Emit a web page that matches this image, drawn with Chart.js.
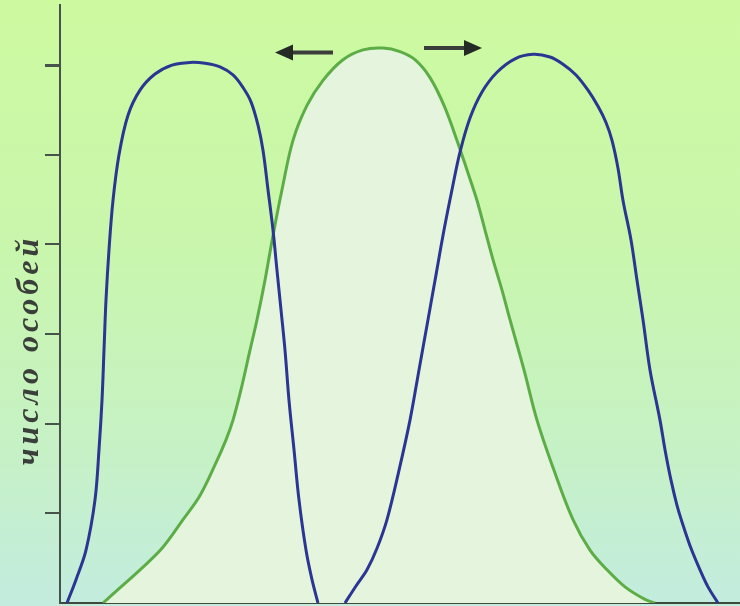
<!DOCTYPE html>
<html>
<head>
<meta charset="utf-8">
<script src="https://cdn.jsdelivr.net/npm/chart.js@4.4.1/dist/chart.umd.min.js"></script>
<style>
  html, body { margin: 0; padding: 0; }
  #wrap {
    width: 740px; height: 606px;
    background: linear-gradient(to bottom, #cdfaa0 0%, #c9f6ac 40%, #c6f1c6 75%, #c3ecdf 100%);
  }
</style>
</head>
<body>
<div id="wrap"><canvas id="grafico" width="740" height="606"></canvas></div>
<script>
// исходная популяция (зелёная) и две новые (синие), x - признак, y - число особей
const xGreen = [4.3, 6.1, 8.0, 10.2, 12.3, 14.0, 15.5, 16.6, 17.3, 18.1, 19.0, 19.7, 20.5, 21.3, 22.2, 23.3, 24.7, 26.3, 28.3, 30.3, 32.3, 34.0, 35.5, 37.0, 38.4, 39.7, 40.7, 41.7, 42.5, 43.3, 44.2, 45.0, 46.4, 47.7, 49.4, 51.3, 53.0, 54.7, 56.5, 58.5, 59.5];
const yGreen = [0, 0.18, 0.37, 0.61, 0.93, 1.20, 1.54, 1.82, 2.04, 2.38, 2.82, 3.16, 3.60, 4.10, 4.61, 5.16, 5.55, 5.83, 6.06, 6.17, 6.19, 6.15, 6.06, 5.86, 5.55, 5.16, 4.83, 4.49, 4.16, 3.83, 3.49, 3.16, 2.60, 2.04, 1.48, 0.93, 0.59, 0.37, 0.18, 0.04, 0];

const xBlueLeft = [0.7, 1.6, 2.6, 3.5, 3.9, 4.2, 4.4, 4.6, 4.9, 5.3, 5.9, 6.8, 8.0, 9.5, 11.2, 13.0, 14.5, 16.0, 17.3, 18.3, 19.1, 19.8, 20.3, 20.8, 21.3, 21.7, 22.1, 22.5, 22.9, 23.4, 23.9, 24.6, 25.2, 25.8];
const yBlueLeft = [0, 0.26, 0.59, 1.15, 1.71, 2.26, 2.82, 3.38, 3.94, 4.49, 5.00, 5.44, 5.72, 5.90, 6.00, 6.03, 6.02, 5.98, 5.89, 5.75, 5.59, 5.33, 5.05, 4.61, 4.16, 3.71, 3.27, 2.82, 2.26, 1.71, 1.15, 0.59, 0.26, 0];

const xBlueRight = [28.5, 29.6, 30.7, 31.7, 32.7, 33.9, 35.0, 35.9, 36.8, 37.6, 38.4, 39.2, 40.0, 41.0, 42.2, 43.7, 45.5, 47.3, 49.0, 50.3, 51.6, 52.8, 53.8, 54.6, 55.2, 55.8, 56.3, 57.1, 57.7, 58.3, 59.0, 60.0, 60.5, 61.1, 61.7, 62.3, 63.1, 64.0, 64.8, 65.8];
const yBlueRight = [0, 0.19, 0.37, 0.61, 0.93, 1.48, 2.04, 2.60, 3.16, 3.66, 4.16, 4.61, 5.03, 5.41, 5.70, 5.92, 6.07, 6.12, 6.09, 6.01, 5.89, 5.72, 5.54, 5.36, 5.16, 4.85, 4.49, 4.05, 3.60, 3.16, 2.60, 2.04, 1.71, 1.37, 1.09, 0.87, 0.61, 0.37, 0.18, 0];

const yTicks = [1, 2, 3, 4, 5, 6];
const axisLabel = 'число особей';

// стрелки над вершиной: [от x, до x, y]
const arrows = [[27.3, 21.5, 6.14], [36.4, 42.2, 6.19]];

function pts(xs, ys) {
  return xs.map((x, i) => ({ x: x, y: ys[i] }));
}

const extras = {
  id: 'extras',
  afterDraw(chart) {
    const ctx = chart.ctx;
    const sx = chart.scales.x, sy = chart.scales.y;
    ctx.save();
    ctx.fillStyle = '#262a26';
    ctx.strokeStyle = '#3a3d3a';
    ctx.lineWidth = 4;
    arrows.forEach(a => {
      const x0 = sx.getPixelForValue(a[0]);
      const x1 = sx.getPixelForValue(a[1]);
      const y = sy.getPixelForValue(a[2]);
      const dir = Math.sign(x1 - x0);
      ctx.beginPath();
      ctx.moveTo(x0, y);
      ctx.lineTo(x1 - dir * 14, y);
      ctx.stroke();
      ctx.beginPath();
      ctx.moveTo(x1, y);
      ctx.lineTo(x1 - dir * 18, y - 8);
      ctx.lineTo(x1 - dir * 18, y + 8);
      ctx.closePath();
      ctx.fill();
    });
    // подпись оси
    ctx.translate(30, 350);
    ctx.rotate(-Math.PI / 2);
    ctx.font = 'italic bold 32px "Liberation Serif", serif';
    ctx.letterSpacing = '4px';
    ctx.fillStyle = '#3b3f3b';
    ctx.textAlign = 'center';
    ctx.textBaseline = 'middle';
    ctx.fillText(axisLabel, 0, 0);
    ctx.restore();
  }
};

const data = {
  datasets: [{
    label: 'исходная',
    data: pts(xGreen, yGreen),
    borderColor: '#5cad46',
    backgroundColor: '#e5f4dd',
    borderWidth: 3,
    fill: 'origin',
    order: 2
  }, {
    label: 'левая',
    data: pts(xBlueLeft, yBlueLeft),
    borderColor: '#2b3592',
    borderWidth: 3,
    fill: false,
    order: 1
  }, {
    label: 'правая',
    data: pts(xBlueRight, yBlueRight),
    borderColor: '#2b3592',
    borderWidth: 3,
    fill: false,
    order: 1
  }]
};

const config = {
  type: 'line',
  data: data,
  options: {
    responsive: false,
    animation: false,
    layout: { padding: { top: 5, left: 0, right: 0, bottom: 0 } },
    elements: {
      point: { radius: 0 },
      line: { tension: 0.35, capBezierPoints: true }
    },
    plugins: {
      legend: { display: false },
      tooltip: { enabled: false }
    },
    scales: {
      x: {
        type: 'linear',
        min: 0,
        max: 68,
        ticks: { display: false },
        grid: { display: false },
        border: { display: true, color: '#3f4a3f', width: 2 },
        afterFit: s => { s.height = 3; }
      },
      y: {
        min: 0,
        max: 6.67,
        afterBuildTicks: s => { s.ticks = yTicks.map(v => ({ value: v })); },
        ticks: { display: false },
        grid: {
          drawOnChartArea: false,
          drawTicks: true,
          tickLength: 15,
          color: '#46524a',
          lineWidth: c => (c.tick && c.tick.value === 6 ? 3 : 2)
        },
        border: { display: true, color: '#46524a', width: 2 },
        afterFit: s => { s.width = 60; }
      }
    }
  },
  plugins: [extras]
};

const grafico = new Chart(document.getElementById('grafico'), config);
</script>
</body>
</html>
